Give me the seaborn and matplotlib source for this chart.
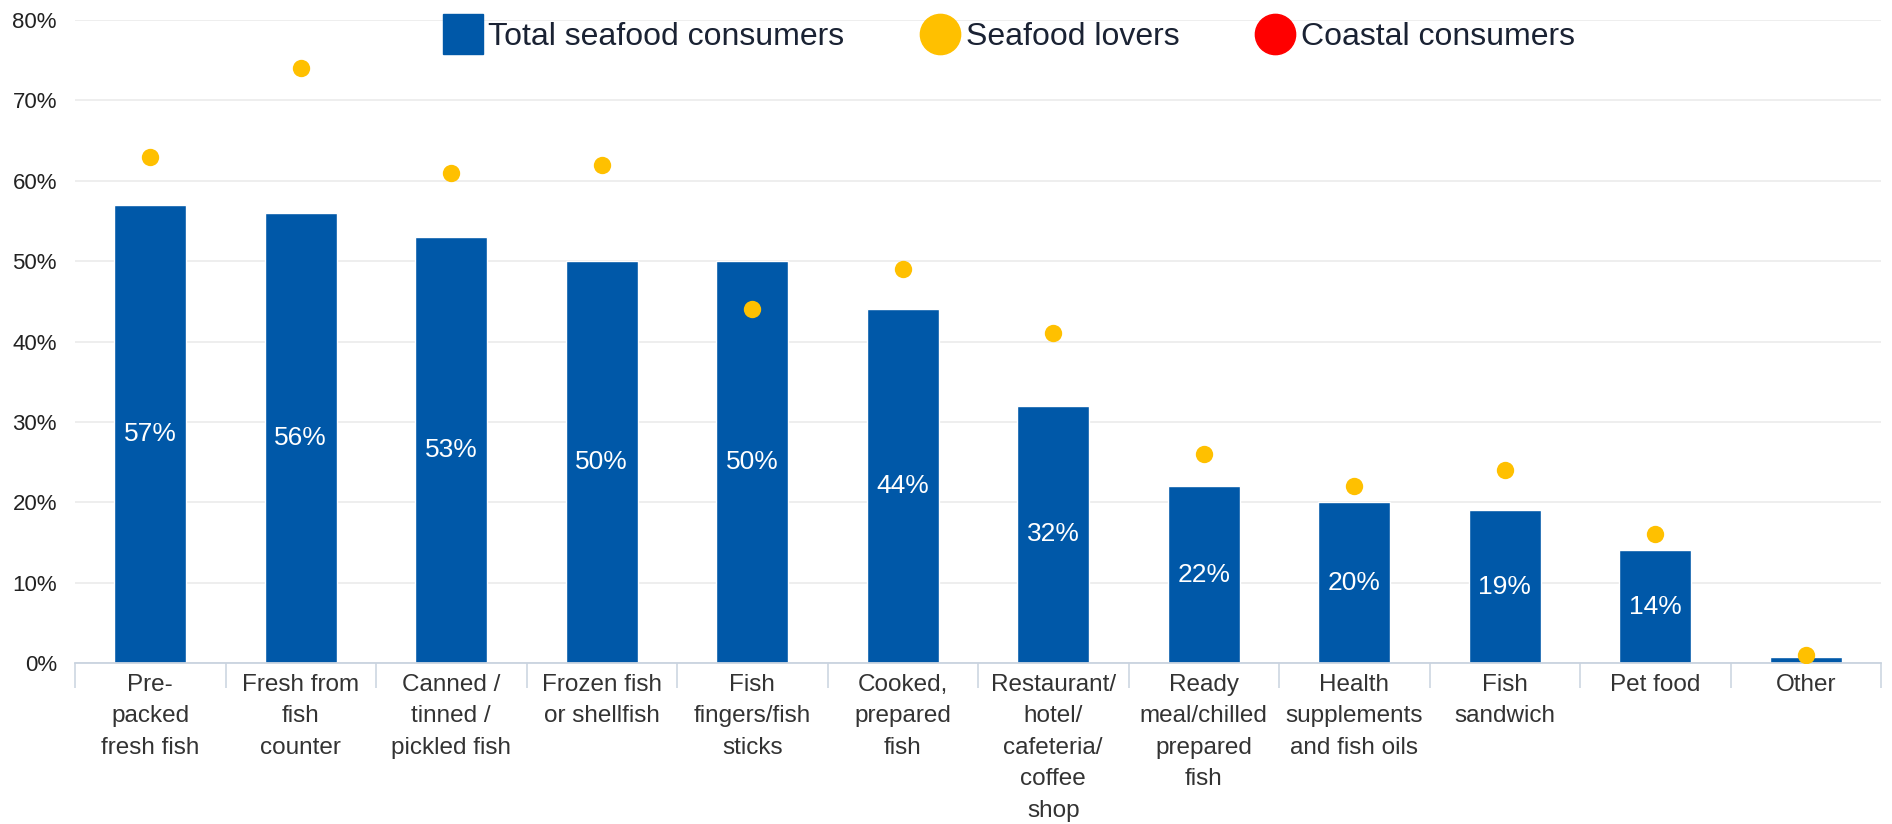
import matplotlib
matplotlib.use("Agg")
import matplotlib.pyplot as plt
from matplotlib.lines import Line2D
import seaborn as sns
import pandas as pd

categories = [
    "Pre-\npacked\nfresh fish",
    "Fresh from\nfish\ncounter",
    "Canned /\ntinned /\npickled fish",
    "Frozen fish\nor shellfish",
    "Fish\nfingers/fish\nsticks",
    "Cooked,\nprepared\nfish",
    "Restaurant/\nhotel/\ncafeteria/\ncoffee\nshop",
    "Ready\nmeal/chilled\nprepared\nfish",
    "Health\nsupplements\nand fish oils",
    "Fish\nsandwich",
    "Pet food",
    "Other",
]
total_consumers = [57, 56, 53, 50, 50, 44, 32, 22, 20, 19, 14, 0.8]
total_labels = ["57%", "56%", "53%", "50%", "50%", "44%", "32%", "22%", "20%", "19%", "14%", ""]
seafood_lovers = [63, 74, 61, 62, 44, 49, 41, 26, 22, 24, 16, 1]
y_ticks = [0, 10, 20, 30, 40, 50, 60, 70, 80]
y_tick_labels = ["0%", "10%", "20%", "30%", "40%", "50%", "60%", "70%", "80%"]
series_names = ["Total seafood consumers", "Seafood lovers", "Coastal consumers"]

BLUE = "#0058a8"
GOLD = "#ffc000"
RED = "#ff0000"

sns.set_theme(style="white")
plt.rcParams["font.family"] = ["Liberation Sans", "DejaVu Sans"]

df = pd.DataFrame({
    "category": categories,
    "total": total_consumers,
    "lovers": seafood_lovers,
})

fig = plt.figure(figsize=(18.92, 8.24), dpi=100)
ax = fig.add_axes([75 / 1892, 161 / 824, 1806 / 1892, 643 / 824])

sns.barplot(data=df, x="category", y="total", color=BLUE, width=0.48,
            saturation=1, ax=ax, zorder=2)
sns.stripplot(data=df, x="category", y="lovers", color=GOLD, jitter=False,
              size=12.5, linewidth=0, ax=ax, zorder=3)

# value labels centred inside each bar
for i, (v, lab) in enumerate(zip(total_consumers, total_labels)):
    if lab:
        ax.text(i, v / 2, lab, ha="center", va="center", color="white",
                fontsize=19)

ax.set_xlim(-0.5, len(categories) - 0.5)
ax.set_ylim(0, 80)
ax.set_yticks(y_ticks)
ax.set_yticklabels(y_tick_labels, fontsize=16, color="#222222")
ax.set_xlabel("")
ax.set_ylabel("")

ax.grid(axis="y", color="#ebebeb", linewidth=1.2, zorder=0)
ax.set_axisbelow(True)
for side in ["left", "right", "top"]:
    ax.spines[side].set_visible(False)
ax.spines["bottom"].set_color("#c9d3df")
ax.spines["bottom"].set_linewidth(1.3)

# category separators below the axis
ax.set_xticks([i - 0.5 for i in range(len(categories) + 1)], minor=True)
ax.tick_params(axis="x", which="minor", length=18, width=1.1, color="#c9d3df",
               bottom=True)
ax.tick_params(axis="x", which="major", length=0, pad=8)
ax.tick_params(axis="y", length=0, pad=13)
for t in ax.get_xticklabels():
    t.set_fontsize(17.5)
    t.set_color("#333333")
    t.set_linespacing(1.55)

handles = [
    Line2D([], [], marker="s", linestyle="none", markersize=29,
           markerfacecolor=BLUE, markeredgecolor=BLUE),
    Line2D([], [], marker="o", linestyle="none", markersize=29,
           markerfacecolor=GOLD, markeredgecolor=GOLD),
    Line2D([], [], marker="o", linestyle="none", markersize=29,
           markerfacecolor=RED, markeredgecolor=RED),
]
fig.legend(handles, series_names, loc="center", ncol=3,
           bbox_to_anchor=(1010 / 1892, 1 - 37 / 824), frameon=False,
           fontsize=23, handletextpad=0.25, columnspacing=2.45,
           handlelength=1.1, labelcolor="#1a2233")

fig.savefig("out.png", dpi=100)
